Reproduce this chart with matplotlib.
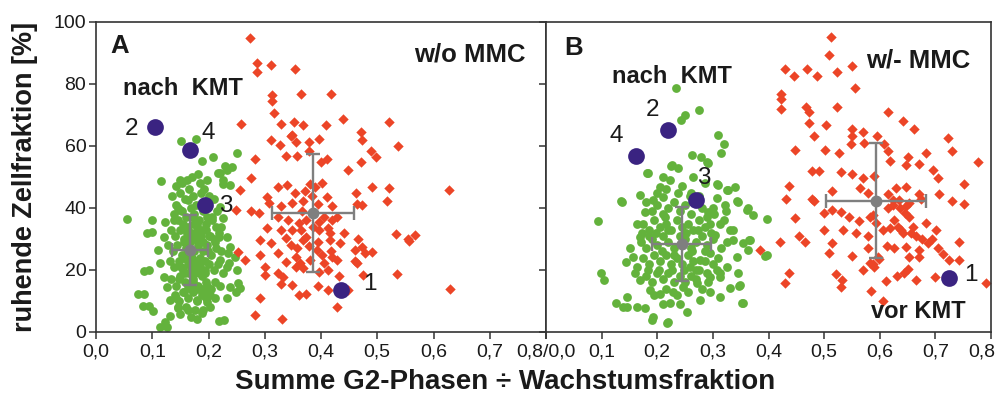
import matplotlib
matplotlib.use("Agg")
import matplotlib.pyplot as plt
from matplotlib import font_manager
import matplotlib.transforms as mtransforms

names = {f.name for f in font_manager.fontManager.ttflist}
FAM = ['Liberation Sans Narrow', 'Liberation Sans', 'DejaVu Sans'] if 'Liberation Sans Narrow' in names else ['Liberation Sans', 'DejaVu Sans']
plt.rcParams['font.family'] = FAM

# ---------------- data: panel A (w/o MMC) ----------------
red_A_x = [0.273,0.287,0.286,0.311,0.354,0.364,0.417,0.312,0.312,0.317,0.258,0.311,0.329,0.352,0.368,0.408,0.439,0.520,0.471,0.472,
           0.327,0.346,0.349,0.356,0.378,0.397,0.337,0.358,0.379,0.400,0.410,0.282,0.471,0.448,0.488,0.498,0.536,0.276,0.256,0.248,
           0.276,0.289,0.323,0.339,0.353,0.371,0.381,0.389,0.402,0.462,0.490,0.521,0.517,0.628,0.304,0.307,0.329,0.349,0.368,0.395,
           0.410,0.420,0.464,0.473,0.323,0.342,0.360,0.374,0.405,0.420,0.429,0.304,0.329,0.365,0.397,0.416,0.441,0.534,0.554,0.567,
           0.556,0.291,0.311,0.337,0.346,0.368,0.374,0.394,0.416,0.433,0.466,0.472,0.461,0.491,0.479,0.252,0.265,0.291,0.323,0.337,
           0.355,0.363,0.381,0.406,0.420,0.429,0.460,0.464,0.301,0.301,0.323,0.333,0.355,0.368,0.397,0.413,0.432,0.474,0.535,0.329,
           0.349,0.394,0.413,0.448,0.360,0.374,0.291,0.428,0.282,0.331,0.630,
           0.385,0.392,0.378,0.401,0.412,0.357,0.366,0.384,0.396,0.348,0.418]
red_A_y = [94.7,86.8,83.8,86.2,85.0,76.9,76.8,76.6,74.6,70.7,67.0,61.8,67.0,67.7,66.7,66.7,68.7,67.6,64.4,62.0,
           60.2,63.1,63.6,61.2,61.2,62.2,56.9,56.9,58.3,54.7,55.8,55.8,54.8,52.3,58.3,56.4,59.9,49.8,45.8,39.4,
           39.1,38.3,46.9,47.5,44.8,45.5,47.7,46.9,48.2,45.0,46.9,46.6,42.1,45.8,43.5,41.5,40.7,41.5,42.1,41.3,
           43.7,40.7,41.3,41.0,37.2,36.1,35.1,36.1,37.0,36.1,37.2,33.7,32.9,32.9,32.9,31.8,31.8,31.5,29.9,31.3,
           29.5,29.7,28.6,30.2,28.0,29.7,30.5,29.1,29.7,28.6,29.9,27.3,26.4,25.9,25.4,25.7,23.2,24.7,25.4,22.7,
           24.3,22.1,23.2,22.1,24.3,23.2,23.0,22.1,21.0,18.3,18.9,17.8,21.0,20.5,19.4,20.0,18.0,18.3,18.7,15.6,
           15.1,14.8,13.7,13.5,11.9,12.4,11.0,8.1,5.4,4.3,14.0,
           34.0,26.5,27.8,25.0,33.5,27.0,39.0,44.0,35.5,33.0,26.0]

green_A_x = [0.055,0.100,0.095,0.086,0.095,0.102,0.132,0.126,0.123,0.120,0.111,0.114,0.143,0.161,0.185,0.197,0.164,0.149,
             0.220,0.232,0.241,0.226,0.238,0.220,0.226,0.223,0.232,0.238,0.247,0.250,0.232,0.220,0.253,0.256,0.232,0.203,
             0.188,0.164,0.146,0.132,0.126,0.120,0.197,0.179,0.228,
             0.090,0.085,0.075,0.083,0.114,0.122,0.116,0.151,0.177,0.188,0.208,0.251,0.230,0.217,0.226,0.149,0.219,0.180,
             0.149,0.239,0.249,0.236,0.234,0.218,0.100,
             0.135,0.142,0.150,0.158,0.166,0.172,0.178,0.186,0.192,0.200,0.210,0.215,
             0.138,0.146,0.153,0.160,0.168,0.175,0.183,0.190,0.198,0.206,0.213,
             0.133,0.141,0.149,0.157,0.164,0.171,0.179,0.187,0.195,0.203,0.211,0.218,
             0.128,0.136,0.144,0.152,0.160,0.167,0.175,0.182,0.190,0.197,0.205,0.213,0.222,
             0.131,0.139,0.147,0.155,0.163,0.170,0.178,0.186,0.193,0.201,0.209,0.217,0.226,
             0.134,0.142,0.150,0.158,0.165,0.173,0.181,0.189,0.196,0.204,0.212,0.220,
             0.140,0.148,0.156,0.164,0.172,0.180,0.188,0.195,0.203,0.211,
             0.145,0.160,0.176,0.190,0.168,
             0.153,0.170,0.181,0.145,0.161,0.174,0.156,0.185,0.168,0.199,0.147,0.179,0.192,
             0.154,0.162,0.171,0.179,0.188,0.196,0.157,0.166,0.174,0.183,0.191,0.200,0.151,0.159,0.168,0.176,0.185,0.193,
             0.155,0.163,0.172,0.181,0.189,0.198,0.158,0.167,0.176,0.184,0.193,0.139,0.207,0.143,0.210]
green_A_y = [36.3,32.4,20.0,12.2,8.4,6.9,5.2,1.6,35.6,30.7,26.4,22.1,47.1,49.1,48.0,49.1,42.6,39.4,
             51.2,52.3,53.3,49.1,47.3,40.4,36.7,34.0,30.7,27.5,24.3,20.0,21.1,23.2,15.7,14.1,10.9,8.2,
             6.0,7.1,7.6,10.3,14.6,17.8,9.7,10.3,3.9,
             32.0,19.7,12.2,8.3,1.6,3.2,48.8,61.5,62.2,55.2,56.4,57.9,53.4,51.2,47.7,49.1,3.6,4.3,
             5.9,14.6,12.9,22.1,25.4,30.7,36.1,
             44,41,45,43,46,44,41,45,46,44,43,39,
             38,36,39,37,40,38,36,39,37,36,34,
             33,31,33,30,34,32,34,31,33,31,29,32,
             28,26,28,25,27,29,26,28,26,28,25,27,26,
             23,21,23,20,22,24,21,23,20,22,20,22,19,
             17,15,18,16,19,17,15,18,16,14,16,15,
             12,10,13,11,13,10,12,11,12,11,
             8,8,7,7,5,
             48,50,51,40,32,35,24,19,14,26,17,30,13,
             35,33,37,35,33,35,29,31,30,32,29,31,21,19,21,19,21,19,
             13,15,16,14,14,15,24,22,23,24,23,36,37,11,30]

mean_A_red = (0.386, 38.3, 0.073, 19.0)
mean_A_green = (0.167, 26.4, 0.032, 11.3)

kmt_labels = ['1', '2', '3', '4']
kmt_A_x = [0.435, 0.105, 0.194, 0.167]
kmt_A_y = [13.7, 66.2, 41.1, 58.6]

# ---------------- data: panel B (w/- MMC) ----------------
red_B_x = [0.513,0.509,0.550,0.429,0.445,0.469,0.487,0.524,0.555,0.423,0.423,0.422,0.467,0.473,0.523,0.615,0.642,0.472,0.503,0.551,
           0.569,0.595,0.662,0.722,0.482,0.447,0.502,0.527,0.548,0.550,0.572,0.608,0.614,0.650,0.618,0.683,0.730,0.776,0.478,0.490,
           0.531,0.550,0.569,0.589,0.647,0.671,0.695,0.704,0.752,0.437,0.432,0.478,0.481,0.515,0.565,0.578,0.614,0.630,0.647,0.670,
           0.674,0.707,0.730,0.752,0.500,0.515,0.531,0.545,0.562,0.582,0.614,0.623,0.637,0.646,0.653,0.683,0.701,0.447,0.500,0.534,
           0.557,0.578,0.605,0.618,0.638,0.656,0.665,0.676,0.694,0.742,0.421,0.455,0.466,0.514,0.508,0.550,0.578,0.613,0.625,0.647,
           0.671,0.686,0.704,0.713,0.725,0.742,0.652,0.671,0.385,0.522,0.533,0.530,0.569,0.587,0.599,0.611,0.631,0.644,0.650,0.665,
           0.700,0.584,0.606,0.437,0.430,0.791,0.582,0.589,0.596,0.587,0.593,0.626,0.632,0.641,0.659,0.623,0.635,0.653,0.647]
red_B_y = [95.1,89.5,85.8,85.0,82.5,85.0,82.5,83.8,78.7,76.9,75.2,72.0,72.6,71.0,72.6,70.9,68.2,67.4,66.7,65.6,
           64.4,63.1,65.5,62.6,63.3,58.8,58.8,57.9,60.7,63.1,60.9,60.7,58.3,56.6,55.2,57.7,58.3,54.8,51.8,51.8,
           51.5,50.9,49.8,50.2,53.9,54.2,52.1,49.6,47.8,47.1,42.8,42.8,42.2,45.5,46.4,45.0,44.4,46.4,46.9,44.6,
           42.8,44.6,42.3,41.3,38.3,39.4,38.8,37.2,35.9,37.0,40.1,41.0,39.9,38.3,37.2,35.3,32.9,36.7,32.9,32.9,
           31.8,31.0,32.9,33.7,32.9,31.8,31.1,30.0,30.0,28.9,28.9,31.0,29.1,28.8,25.4,24.5,27.0,27.7,27.0,27.5,
           26.6,28.6,27.0,25.1,23.2,23.2,24.3,24.1,26.4,18.7,16.7,14.6,20.0,21.9,23.7,16.5,18.0,18.9,20.2,16.7,
           17.8,13.2,9.9,19.1,15.9,15.9,22.1,21.0,24.3,37.8,35.1,36.1,34.0,31.8,34.0,42.6,42.6,41.5,40.5]

green_B_x = [0.233,0.275,0.250,0.243,0.310,0.320,0.315,0.263,0.278,0.290,0.224,0.182,0.094,0.134,0.398,0.394,0.099,0.104,
             0.125,0.146,0.191,0.218,0.352,0.347,0.365,0.362,0.344,0.326,0.308,
             0.136,0.169,0.151,0.144,0.145,0.139,0.163,0.178,0.193,0.220,0.253,0.223,0.277,0.295,0.313,0.331,0.349,0.355,
             0.346,0.364,0.355,0.367,0.397,0.373,0.364,0.346,0.340,0.328,0.310,0.292,0.238,0.226,0.184,0.211,0.223,0.205,
             0.307,0.322,0.313,0.331,0.337,0.343,0.325,0.313,0.295,0.271,0.247,0.229,0.205,0.187,0.169,0.163,0.157,0.169,
             0.163,0.178,0.193,0.211,0.238,0.292,0.304,0.295,0.277,0.259,
             0.18,0.19,0.20,0.21,0.22,0.23,0.24,0.25,0.26,0.28,0.29,0.30,
             0.175,0.185,0.195,0.205,0.215,0.225,0.235,0.245,0.255,0.265,0.275,0.285,0.295,0.32,
             0.17,0.18,0.19,0.20,0.21,0.22,0.23,0.24,0.25,0.26,0.27,0.28,0.29,0.30,0.315,0.325,
             0.175,0.185,0.195,0.205,0.215,0.225,0.235,0.245,0.255,0.265,0.275,0.285,0.30,0.31,
             0.18,0.19,0.20,0.21,0.22,0.23,0.24,0.25,0.26,0.27,0.28,0.29,
             0.195,0.215,0.235,0.255,0.21,0.24,
             0.20,0.215,0.245,0.26,0.275,0.285,0.265,
             0.186,0.197,0.208,0.219,0.231,0.252,0.263,0.274,0.286,0.297,0.308,
             0.183,0.204,0.226,0.248,0.269,0.291,0.312,0.172,0.214,0.258,0.302,0.336,0.160,0.324]
green_B_y = [78.7,71.5,70.1,68.5,63.6,60.6,57.9,57.2,56.3,54.7,53.7,51.2,35.8,42.1,36.5,24.5,18.9,16.9,
             9.2,8.1,3.8,3.0,9.4,14.8,29.7,39.2,42.1,45.8,47.7,
             42.0,44.2,27.0,22.7,11.4,8.2,8.2,7.6,5.0,3.1,6.6,9.3,10.3,12.9,11.4,14.1,15.2,9.3,
             18.9,26.4,28.6,29.7,24.8,37.8,40.0,42.0,46.9,45.8,47.5,54.5,52.8,53.9,51.2,50.0,49.0,46.9,
             43.1,41.0,34.9,32.9,29.7,24.3,21.1,17.8,17.8,15.7,14.6,12.9,12.4,13.4,16.8,21.1,24.3,30.8,
             35.0,38.8,42.6,43.7,44.7,38.8,31.3,25.4,23.2,21.1,
             42,39,41,38,40,42,39,41,38,40,37,40,
             35,33,36,34,35,33,36,34,35,33,36,34,35,36,
             29,27,30,28,31,29,27,31,30,27,29,31,28,30,27,29,
             24,22,25,23,25,22,24,22,25,23,20,23,22,24,
             18,16,19,17,19,16,18,16,18,17,14,19,
             12,14,12,13,9,9,
             45,46,47,45,44,48,50,
             31,32,26,33,25,32,26,33,26,32,20,
             20,20,20,20,20,16,19,32,37,44,38,33,19,39]

mean_B_red = (0.594, 42.4, 0.090, 18.6)
mean_B_green = (0.244, 28.4, 0.053, 11.9)

kmt_B_x = [0.725, 0.220, 0.269, 0.161]
kmt_B_y = [17.3, 65.3, 42.6, 56.9]

x_ticks = [0.0, 0.1, 0.2, 0.3, 0.4, 0.5, 0.6, 0.7, 0.8]
x_ticklabels_A = ['0,0', '0,1', '0,2', '0,3', '0,4', '0,5', '0,6', '0,7', '0,8/0,0']
x_ticklabels_B = ['', '0,1', '0,2', '0,3', '0,4', '0,5', '0,6', '0,7', '0,8']
y_ticks = [0, 20, 40, 60, 80, 100]

# ---------------- style ----------------
RED = '#EC4527'
GREEN = '#63B23C'
PURPLE = '#3A2381'
GREY = '#7F7F7F'
TXT = '#1A1A1A'

fig = plt.figure(figsize=(10.02, 4.03), dpi=100)
ax_a = fig.add_axes([96/1002, 1-332/403, 450/1002, 310/403])
ax_b = fig.add_axes([546/1002, 1-332/403, 445/1002, 310/403])


def draw(ax, gx, gy, rx, ry, mg, mr, kx, ky):
    ax.scatter(gx, gy, s=40, c=GREEN, marker='o', linewidths=0, zorder=2)
    ax.scatter(rx, ry, s=28, c=RED, marker='D', linewidths=0, zorder=2)
    for m in (mg, mr):
        ax.errorbar(m[0], m[1], xerr=m[2], yerr=m[3], fmt='o', color=GREY, ms=7.5,
                    elinewidth=1.7, capsize=5, capthick=1.7, zorder=4)
    ax.scatter(kx, ky, s=145, c=PURPLE, marker='o', linewidths=0, zorder=5)
    ax.set_xlim(0, 0.8)
    ax.set_ylim(0, 100)
    ax.set_xticks(x_ticks)
    ax.set_yticks(y_ticks)
    for sp in ax.spines.values():
        sp.set_color('#333333')
        sp.set_linewidth(1.2)
    ax.tick_params(direction='out', length=5, width=1.1, color='#333333',
                   labelsize=14, labelcolor=TXT, pad=3)


draw(ax_a, green_A_x, green_A_y, red_A_x, red_A_y, mean_A_green, mean_A_red, kmt_A_x, kmt_A_y)
draw(ax_b, green_B_x, green_B_y, red_B_x, red_B_y, mean_B_green, mean_B_red, kmt_B_x, kmt_B_y)

ax_a.set_xticklabels(x_ticklabels_A)
ax_b.set_xticklabels(x_ticklabels_B)
ax_b.set_yticklabels([])
ax_a.tick_params(axis='y', pad=2)

# keep the last tick label of panel B inside the figure
last = ax_b.get_xticklabels()[-1]
last.set_transform(last.get_transform() + mtransforms.ScaledTranslation(-7/72, 0, fig.dpi_scale_trans))

lab_A = [(0.487, 15.6), (0.063, 65.5), (0.231, 40.8), (0.199, 64.2)]
lab_B = [(0.764, 18.3), (0.191, 71.7), (0.284, 49.6), (0.126, 63.1)]
for (x, y), t in zip(lab_A, kmt_labels):
    ax_a.text(x, y, t, fontsize=17.5, color=TXT, ha='center', va='center', zorder=6)
for (x, y), t in zip(lab_B, kmt_labels):
    ax_b.text(x, y, t, fontsize=17.5, color=TXT, ha='center', va='center', zorder=6)

bold = dict(fontweight='bold', color=TXT, ha='center', va='center', zorder=6)
ax_a.text(0.053, 0.923, 'A', transform=ax_a.transAxes, fontsize=18.5, **bold)
ax_a.text(0.831, 0.894, 'w/o MMC', transform=ax_a.transAxes, fontsize=18.5, **bold)
ax_a.text(0.193, 0.787, 'nach  KMT', transform=ax_a.transAxes, fontsize=17, **bold)
ax_b.text(0.061, 0.916, 'B', transform=ax_b.transAxes, fontsize=18.5, **bold)
ax_b.text(0.283, 0.823, 'nach  KMT', transform=ax_b.transAxes, fontsize=17, **bold)
ax_b.text(0.836, 0.877, 'w/- MMC', transform=ax_b.transAxes, fontsize=18.5, **bold)
ax_b.text(0.836, 0.065, 'vor KMT', transform=ax_b.transAxes, fontsize=17, **bold)

fig.text(505/1002, 1-382/403, 'Summe G2-Phasen ÷ Wachstumsfraktion', fontsize=20, **bold)
fig.text(25/1002, 1-177/403, 'ruhende Zellfraktion [%]', fontsize=19.5, rotation=90, **bold)

fig.savefig('out.png', dpi=100)
